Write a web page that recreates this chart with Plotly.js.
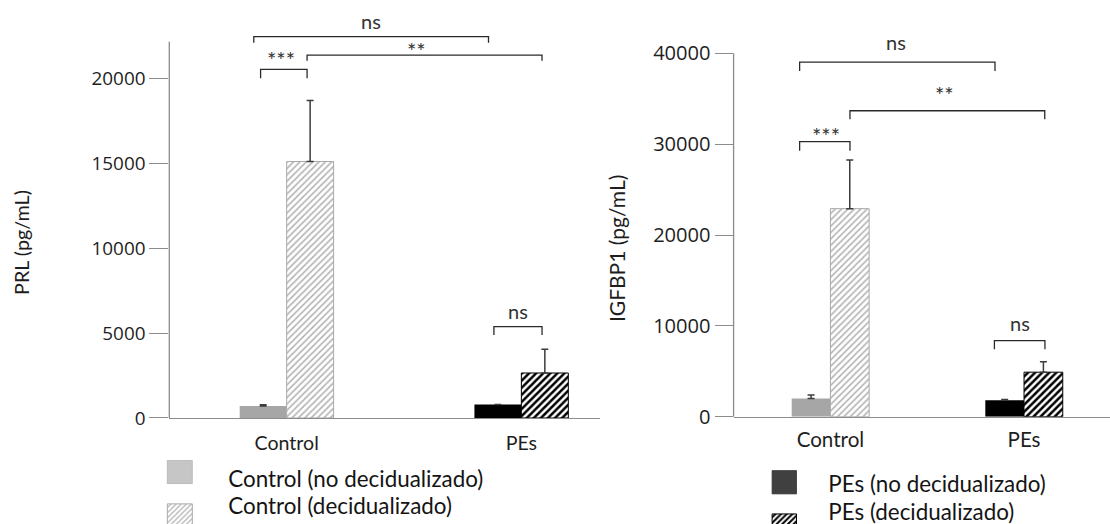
<!DOCTYPE html>
<html>
<head>
<meta charset="utf-8">
<script src="https://cdn.plot.ly/plotly-3.0.1.min.js"></script>
<style>
  html, body { margin: 0; padding: 0; background: #ffffff; }
  #chart { width: 1110px; height: 524px; }
</style>
</head>
<body>
<div id="chart"></div>
<script>
// ---------------- data ----------------
const categories = ['Control', 'PEs'];
const seriesNames = ['Control (no decidualizado)', 'Control (decidualizado)', 'PEs (no decidualizado)', 'PEs (decidualizado)'];

// PRL (pg/mL) — [Control, PEs]
const prlNoDecid = [700, 800];
const prlNoDecidErr = [80, 0];
const prlDecid = [15100, 2650];
const prlDecidErr = [3600, 1400];

// IGFBP1 (pg/mL) — [Control, PEs]
const igfNoDecid = [2000, 1800];
const igfNoDecidErr = [400, 100];
const igfDecid = [22900, 4900];
const igfDecidErr = [5350, 1150];

// significance comparisons (PRL)
const prlSigLabels = ['ns', '**', '***', 'ns'];
const prlSigX0 = [-0.14, 0.087, -0.111, 0.883];
const prlSigX1 = [0.86, 1.088, 0.087, 1.088];
const prlSigTop = [22450, 21370, 20530, 5375];
const prlSigLeg = [22100, 21040, 20000, 4890];
const prlSigLabelX = [0.358, 0.554, -0.025, 0.985];
const prlSigLabelY = [23350, 21625, 21095, 6317];

// significance comparisons (IGFBP1)
const igfSigLabels = ['ns', '**', '***', 'ns'];
const igfSigX0 = [-0.159, 0.101, -0.159, 0.847];
const igfSigX1 = [0.85, 1.107, 0.101, 1.108];
const igfSigTop = [39040, 33680, 30270, 8365];
const igfSigLeg = [38050, 32735, 29280, 7420];
const igfSigLabelX = [0.34, 0.587, -0.022, 0.979];
const igfSigLabelY = [41240, 35443, 31007, 10314];

const prlAxisTop = 22150;
const igfAxisTop = 40000;

// ---------------- styles ----------------
const FONT = 'Lato, "Open Sans", sans-serif';
const NUM_FONT = '"Open Sans", "Noto Sans", sans-serif';
const AXIS_COLOR = '#8c8c8c';
const TEXT_COLOR = '#1e1e1e';

const seriesStyles = [
  { color: '#a6a6a6', line: { width: 0 } },
  { color: '#ffffff', line: { color: '#a9a9a9', width: 1 },
    pattern: { shape: '/', fgcolor: '#b3b3b3', bgcolor: '#ffffff', size: 4.5, solidity: 0.35, fillmode: 'replace' } },
  { color: '#000000', line: { width: 0 } },
  { color: '#ffffff', line: { color: '#000000', width: 1 },
    pattern: { shape: '/', fgcolor: '#000000', bgcolor: '#ffffff', size: 5, solidity: 0.5, fillmode: 'replace' } }
];
const legendIds = ['legend', 'legend2', 'legend3', 'legend4'];

function chartTraces(noDecid, noDecidErr, decid, decidErr, xa, ya, legendSeries) {
  const out = [];
  for (let s = 0; s < 4; s++) {
    const ci = s < 2 ? 0 : 1;
    const isDecid = s % 2 === 1;
    const vals = isDecid ? decid : noDecid;
    const errs = isDecid ? decidErr : noDecidErr;
    out.push({
      type: 'bar',
      name: seriesNames[s],
      x: [categories[ci]],
      y: [vals[ci]],
      xaxis: xa, yaxis: ya,
      offsetgroup: isDecid ? 'decid' : 'nodecid',
      marker: seriesStyles[s],
      error_y: { type: 'data', symmetric: false, array: [errs[ci]], arrayminus: [0],
                 color: '#3c3c3c', thickness: 1.5, width: 3.5 },
      legend: legendIds[s],
      showlegend: legendSeries.indexOf(s) >= 0,
      hoverinfo: 'name+y'
    });
  }
  return out;
}

const traces = [].concat(
  chartTraces(prlNoDecid, prlNoDecidErr, prlDecid, prlDecidErr, 'x', 'y', [0, 1]),
  chartTraces(igfNoDecid, igfNoDecidErr, igfDecid, igfDecidErr, 'x2', 'y2', [2, 3])
);

// brackets and labels
const shapes = [];
const annotations = [];
function addSig(labels, x0s, x1s, tops, legs, lx, ly, xr, yr) {
  for (let i = 0; i < labels.length; i++) {
    shapes.push({
      type: 'path', xref: xr, yref: yr,
      path: 'M' + x0s[i] + ',' + legs[i] + ' L' + x0s[i] + ',' + tops[i] +
            ' L' + x1s[i] + ',' + tops[i] + ' L' + x1s[i] + ',' + legs[i],
      line: { color: '#2a2a2a', width: 1.3 }
    });
    const star = labels[i].indexOf('*') >= 0;
    annotations.push({
      xref: xr, yref: yr, x: lx[i], y: ly[i], text: labels[i], showarrow: false,
      xanchor: 'center', yanchor: 'middle',
      font: { family: FONT, size: star ? 22 : 20, color: '#333333' }
    });
  }
}
addSig(prlSigLabels, prlSigX0, prlSigX1, prlSigTop, prlSigLeg, prlSigLabelX, prlSigLabelY, 'x', 'y');
addSig(igfSigLabels, igfSigX0, igfSigX1, igfSigTop, igfSigLeg, igfSigLabelX, igfSigLabelY, 'x2', 'y2');

// vertical axis lines (stop at the top like the original)
shapes.push({ type: 'line', xref: 'x domain', yref: 'y', x0: 0, x1: 0, y0: 0, y1: prlAxisTop,
              line: { color: AXIS_COLOR, width: 1.3 } });
shapes.push({ type: 'line', xref: 'x2 domain', yref: 'y2', x0: 0, x1: 0, y0: 0, y1: igfAxisTop,
              line: { color: AXIS_COLOR, width: 1.3 } });

// y-axis titles
annotations.push({ xref: 'paper', yref: 'paper', x: 0.01928, y: 0.5372, text: 'PRL (pg/mL)',
  textangle: -90, showarrow: false, xanchor: 'center', yanchor: 'middle',
  font: { family: FONT, size: 19.7, color: TEXT_COLOR } });
annotations.push({ xref: 'paper', yref: 'paper', x: 0.555, y: 0.5248, text: 'IGFBP1 (pg/mL)',
  textangle: -90, showarrow: false, xanchor: 'center', yanchor: 'middle',
  font: { family: FONT, size: 21, color: TEXT_COLOR } });

function legendBox(x, y, itemwidth) {
  return { x: x, y: y, xanchor: 'left', yanchor: 'middle', bgcolor: 'rgba(0,0,0,0)',
           borderwidth: 0, itemwidth: itemwidth, itemclick: false, itemdoubleclick: false,
           font: { family: FONT, size: 22.4, color: '#141414' } };
}

const xCommon = {
  type: 'category', categoryorder: 'array', categoryarray: categories,
  showline: true, linecolor: AXIS_COLOR, linewidth: 1.3,
  ticks: 'outside', tickcolor: 'rgba(0,0,0,0)', showgrid: false, zeroline: false, fixedrange: true
};
const yCommon = {
  showline: false, ticks: 'outside', tickcolor: AXIS_COLOR, tickwidth: 1.3,
  showgrid: false, zeroline: false, tick0: 0, exponentformat: 'none', separatethousands: false,
  tickformat: 'd', fixedrange: true
};

const layout = {
  width: 1110, height: 524,
  margin: { l: 0, r: 0, t: 0, b: 0, autoexpand: false },
  paper_bgcolor: '#ffffff', plot_bgcolor: 'rgba(0,0,0,0)',
  barmode: 'group', bargap: 0.6, bargroupgap: 0,
  font: { family: FONT, color: TEXT_COLOR },
  xaxis: Object.assign({}, xCommon, { domain: [0.15252, 0.54054], range: [-0.5, 1.335], anchor: 'y',
    ticklen: 7, tickfont: { family: FONT, size: 19.6, color: TEXT_COLOR } }),
  yaxis: Object.assign({}, yCommon, { domain: [0.20229, 0.96403], range: [0, 23500], anchor: 'x',
    dtick: 5000, ticklen: 19, tickfont: { family: NUM_FONT, size: 18.9, color: TEXT_COLOR } }),
  xaxis2: Object.assign({}, xCommon, { domain: [0.66090, 1], range: [-0.5, 1.444], anchor: 'y2',
    ticklen: 4, tickfont: { family: FONT, size: 20.6, color: TEXT_COLOR } }),
  yaxis2: Object.assign({}, yCommon, { domain: [0.20477, 0.94160], range: [0, 42500], anchor: 'x2',
    dtick: 10000, ticklen: 18, tickfont: { family: NUM_FONT, size: 20.1, color: TEXT_COLOR } }),
  legend: legendBox(0.11829, 0.0861, 87),
  legend2: legendBox(0.11829, 0.0345, 87),
  legend3: legendBox(0.66694, 0.0760, 78),
  legend4: legendBox(0.66694, 0.0244, 78),
  shapes: shapes,
  annotations: annotations,
  showlegend: true
};

// legend swatch geometry: [dy, width, height, fill override, stroke override]
const swatchAdjust = {
  legend:  [-6.4, 25, 23, '#c6c6c6', '#b4b4b4'],
  legend2: [9.9, 25, 23, null, null],
  legend3: [-1.5, 24.4, 23.3, '#404040', '#333333'],
  legend4: [14.8, 24.4, 23.3, null, null]
};

Plotly.newPlot('chart', traces, layout, { displayModeBar: false }).then(function () {
  Object.keys(swatchAdjust).forEach(function (id) {
    const a = swatchAdjust[id];
    document.querySelectorAll('g.' + id + ' .scrollbox').forEach(function (el) {
      el.removeAttribute('clip-path');
    });
    document.querySelectorAll('g.' + id + ' .legendpoints path').forEach(function (p) {
      const w = a[1], h = a[2];
      p.setAttribute('d', 'M' + (-w / 2) + ',' + (a[0] - h / 2) + 'h' + w + 'v' + h + 'h' + (-w) + 'Z');
      if (a[3]) { p.style.fill = a[3]; }
      if (a[4]) { p.style.stroke = a[4]; p.style.strokeWidth = '0.8px'; }
    });
  });
});
</script>
</body>
</html>
